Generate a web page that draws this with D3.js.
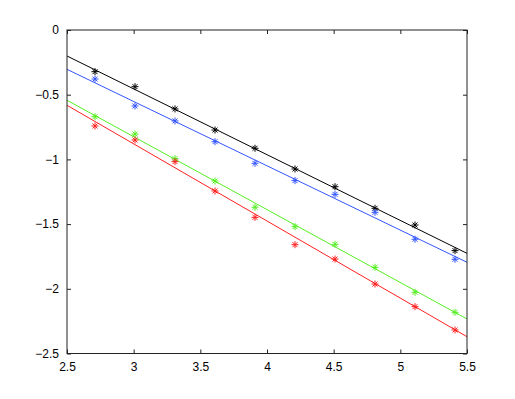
<!DOCTYPE html>
<html>
<head>
<meta charset="utf-8">
<script src="https://cdn.jsdelivr.net/npm/d3@7"></script>
<style>
  html, body { margin: 0; padding: 0; background: #fff; }
  svg { display: block; }
  text { font-family: "Liberation Sans", Arial, Helvetica, sans-serif; font-size: 12px; fill: #000; }
</style>
</head>
<body>
<script>
// ---- data ----
const xValues = [2.71, 3.01, 3.31, 3.61, 3.91, 4.21, 4.51, 4.81, 5.11, 5.41];
const seriesNames = ["black", "blue", "green", "red"];
const blackValues = [-0.322, -0.438, -0.610, -0.773, -0.914, -1.074, -1.211, -1.378, -1.507, -1.705];
const blueValues  = [-0.379, -0.587, -0.703, -0.863, -1.030, -1.164, -1.270, -1.409, -1.617, -1.772];
const greenValues = [-0.670, -0.804, -0.994, -1.167, -1.370, -1.520, -1.656, -1.834, -2.027, -2.182];
const redValues   = [-0.742, -0.850, -1.017, -1.244, -1.448, -1.659, -1.770, -1.963, -2.138, -2.318];
// fitted line values at the x-limits (x = 2.5 and x = 5.5)
const fitX = [2.5, 5.5];
const blackFit = [-0.201, -1.726];
const blueFit  = [-0.304, -1.795];
const greenFit = [-0.543, -2.233];
const redFit   = [-0.582, -2.370];
const xTicks = [2.5, 3, 3.5, 4, 4.5, 5, 5.5];
const yTicks = [0, -0.5, -1, -1.5, -2, -2.5];
const xTickLabels = ["2.5", "3", "3.5", "4", "4.5", "5", "5.5"];
const yTickLabels = ["0", "\u22120.5", "\u22121", "\u22121.5", "\u22122", "\u22122.5"];

const colors = { black: "#000000", blue: "#3355ff", green: "#55ee22", red: "#ff2020" };
const series = [
  { name: "black", values: blackValues, fit: blackFit },
  { name: "blue", values: blueValues, fit: blueFit },
  { name: "green", values: greenValues, fit: greenFit },
  { name: "red", values: redValues, fit: redFit }
];

const W = 515, H = 399;
const mLeft = 67, mRight = 467, mTop = 30, mBottom = 353.5;

const svg = d3.select("body").append("svg").attr("width", W).attr("height", H);

const x = d3.scaleLinear().domain([2.5, 5.5]).range([mLeft, mRight]);
const y = d3.scaleLinear().domain([-2.5, 0]).range([mBottom, mTop]);

svg.append("clipPath").attr("id", "plotclip").append("rect")
  .attr("x", mLeft).attr("y", mTop).attr("width", mRight - mLeft).attr("height", mBottom - mTop);

const plot = svg.append("g").attr("clip-path", "url(#plotclip)");

const line = d3.line().x(d => x(d[0])).y(d => y(d[1]));

series.forEach(s => {
  plot.append("path")
    .attr("d", line(fitX.map((xv, i) => [xv, s.fit[i]])))
    .attr("fill", "none")
    .attr("stroke", colors[s.name])
    .attr("stroke-width", 1);
});

// asterisk markers
const r = 3.5, rd = r * 0.7071;
const asterisk = `M${-r},0L${r},0M0,${-r}L0,${r}M${-rd},${-rd}L${rd},${rd}M${-rd},${rd}L${rd},${-rd}`;
series.forEach(s => {
  svg.append("g").selectAll("path")
    .data(s.values.map((v, i) => [xValues[i], v]))
    .join("path")
    .attr("transform", d => `translate(${x(d[0])},${y(d[1])})`)
    .attr("d", asterisk)
    .attr("fill", "none")
    .attr("stroke", colors[s.name])
    .attr("stroke-width", 1);
});

// axes with inward ticks on all sides
const tickLen = 4;
const axisColor = "#222";
const bottomAxis = d3.axisBottom(x).tickValues(xTicks).tickSize(-tickLen).tickPadding(9)
  .tickFormat((d, i) => xTickLabels[i]);
const topAxis = d3.axisTop(x).tickValues(xTicks).tickSize(-tickLen).tickFormat("");
const leftAxis = d3.axisLeft(y).tickValues(yTicks).tickSize(-tickLen).tickPadding(8)
  .tickFormat((d, i) => yTickLabels[i]);
const rightAxis = d3.axisRight(y).tickValues(yTicks).tickSize(-tickLen).tickFormat("");

function styleAxis(g) {
  g.select(".domain").remove();
  g.selectAll(".tick line").attr("stroke", axisColor);
  g.selectAll("text").attr("font-size", 12).attr("font-family", "Liberation Sans, Arial, sans-serif").attr("fill", "#000");
}
svg.append("g").attr("transform", `translate(0,${mBottom})`).call(bottomAxis).call(styleAxis);
svg.append("g").attr("transform", `translate(0,${mTop})`).call(topAxis).call(styleAxis);
svg.append("g").attr("transform", `translate(${mLeft},0)`).call(leftAxis).call(styleAxis);
svg.append("g").attr("transform", `translate(${mRight},0)`).call(rightAxis).call(styleAxis);

// box
svg.append("rect")
  .attr("x", mLeft).attr("y", mTop).attr("width", mRight - mLeft).attr("height", mBottom - mTop)
  .attr("fill", "none").attr("stroke", axisColor).attr("stroke-width", 1);
</script>
</body>
</html>
